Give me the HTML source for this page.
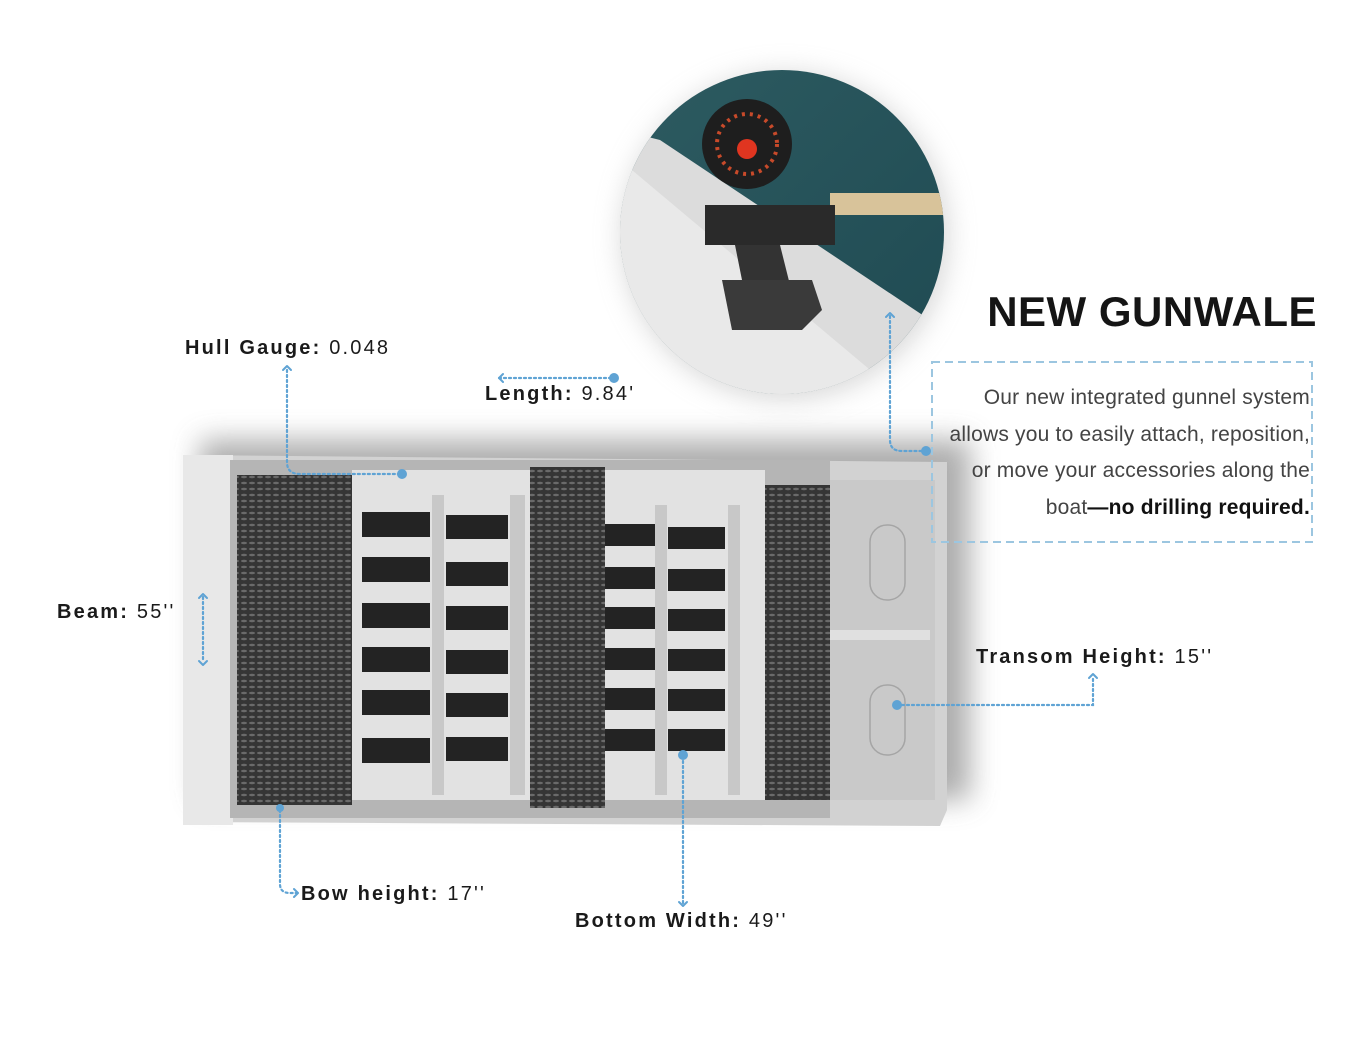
<!DOCTYPE html>
<html><head><meta charset="utf-8"><style>
html,body{margin:0;padding:0;background:#fff;}
body{width:1366px;height:1055px;overflow:hidden;position:relative;font-family:"Liberation Sans",sans-serif;}
.lbl{position:absolute;font-size:20px;color:#1a1a1a;letter-spacing:2.2px;white-space:nowrap;}
.lbl b{font-weight:bold;}
svg{position:absolute;left:0;top:0;}
</style></head><body>
<svg width="1366" height="1055" viewBox="0 0 1366 1055">
<defs>
<filter id="blur" x="-20%" y="-20%" width="140%" height="140%"><feGaussianBlur stdDeviation="14"/></filter>
<pattern id="mesh" width="8" height="6" patternUnits="userSpaceOnUse">
<rect width="8" height="6" fill="#353535"/>
<ellipse cx="4" cy="3" rx="3" ry="1.2" fill="#6a6a6a"/>
</pattern>
<clipPath id="cc"><circle cx="782" cy="232" r="162"/></clipPath>
<linearGradient id="water" x1="0" y1="0" x2="1" y2="1">
<stop offset="0" stop-color="#2d5b61"/><stop offset="1" stop-color="#1f4a52"/>
</linearGradient>
</defs>

<rect x="200" y="440" width="770" height="360" fill="#999" filter="url(#blur)" opacity="0.8"/>
<polygon points="183,455 947,462 947,810 940,826 183,822" fill="#d2d2d2"/>
<rect x="183" y="455" width="50" height="370" fill="#e8e8e8"/>
<rect x="230" y="460" width="600" height="358" fill="#b5b5b5"/>
<rect x="352" y="470" width="180" height="330" fill="#e2e2e2"/>
<rect x="605" y="470" width="160" height="330" fill="#e2e2e2"/>
<g fill="#c8c8c8">
<rect x="432" y="495" width="12" height="300"/><rect x="655" y="505" width="12" height="290"/>
<rect x="510" y="495" width="15" height="300"/><rect x="728" y="505" width="12" height="290"/>
</g>
<g fill="#232323">
<rect x="362" y="512" width="68" height="25"/><rect x="446" y="515" width="62" height="24"/>
<rect x="362" y="557" width="68" height="25"/><rect x="446" y="562" width="62" height="24"/>
<rect x="362" y="603" width="68" height="25"/><rect x="446" y="606" width="62" height="24"/>
<rect x="362" y="647" width="68" height="25"/><rect x="446" y="650" width="62" height="24"/>
<rect x="362" y="690" width="68" height="25"/><rect x="446" y="693" width="62" height="24"/>
<rect x="362" y="738" width="68" height="25"/><rect x="446" y="737" width="62" height="24"/>
<rect x="605" y="524" width="50" height="22"/><rect x="668" y="527" width="57" height="22"/>
<rect x="605" y="567" width="50" height="22"/><rect x="668" y="569" width="57" height="22"/>
<rect x="605" y="607" width="50" height="22"/><rect x="668" y="609" width="57" height="22"/>
<rect x="605" y="648" width="50" height="22"/><rect x="668" y="649" width="57" height="22"/>
<rect x="605" y="688" width="50" height="22"/><rect x="668" y="689" width="57" height="22"/>
<rect x="605" y="729" width="50" height="22"/><rect x="668" y="729" width="57" height="22"/>
</g>
<rect x="830" y="480" width="105" height="320" fill="#c9c9c9"/>
<rect x="830" y="630" width="100" height="10" fill="#e0e0e0"/>
<rect x="870" y="525" width="35" height="75" rx="17" fill="none" stroke="#a5a5a5" stroke-width="1.5"/>
<rect x="870" y="685" width="35" height="70" rx="17" fill="none" stroke="#a5a5a5" stroke-width="1.5"/>
<rect x="237" y="475" width="115" height="330" fill="url(#mesh)"/>
<rect x="530" y="467" width="75" height="341" fill="url(#mesh)"/>
<rect x="765" y="485" width="65" height="315" fill="url(#mesh)"/>

<circle cx="785" cy="236" r="162" fill="#aaa" filter="url(#blur)" opacity="0.5"/>
<g clip-path="url(#cc)">
<rect x="620" y="70" width="325" height="325" fill="url(#water)"/>
<polygon points="620,130 660,140 945,330 945,395 620,395" fill="#dcdcdc"/>
<polygon points="620,160 900,395 620,395" fill="#e9e9e9"/>
<rect x="830" y="193" width="115" height="22" fill="#d8c39a"/>
<path d="M705,205 h130 v40 h-130z" fill="#2a2a2a"/>
<path d="M735,245 h45 l10,40 -15,10 h-30z" fill="#333"/>
<path d="M722,280 h90 l10,30 -20,20 h-70z" fill="#3a3a3a"/>
<circle cx="747" cy="144" r="45" fill="#1e1e1e"/>
<circle cx="747" cy="144" r="30" fill="none" stroke="#c84a2a" stroke-width="4" stroke-dasharray="3 5"/>
<circle cx="747" cy="149" r="10" fill="#e03520"/>
</g>

<g fill="none" stroke="#5fa3d4" stroke-width="2.2" stroke-dasharray="2 3" stroke-linecap="round">
<path d="M287,370 V462 Q287,474 300,474 H402"/>
<path d="M499,378 H614"/>
<path d="M203,597 V662"/>
<path d="M280,810 V884 Q280,893 290,893 H298"/>
<path d="M683,756 V906"/>
<path d="M897,705 H1093 V676"/>
<path d="M890,316 V440 Q890,451 902,451 H925"/>
</g>
<g fill="none" stroke="#5fa3d4" stroke-width="2" stroke-linecap="round" stroke-linejoin="round">
<path d="M283,370 l4,-4 4,4"/>
<path d="M503,374 l-4,4 4,4"/>
<path d="M199,598 l4,-4 4,4"/><path d="M199,661 l4,4 4,-4"/>
<path d="M294,889 l4,4 -4,4"/>
<path d="M679,902 l4,4 4,-4"/>
<path d="M1089,678 l4,-4 4,4"/>
<path d="M886,317 l4,-4 4,4"/>
</g>
<g fill="#5fa3d4">
<circle cx="402" cy="474" r="5"/><circle cx="614" cy="378" r="5"/>
<circle cx="280" cy="808" r="4"/><circle cx="683" cy="755" r="5"/>
<circle cx="897" cy="705" r="5"/><circle cx="926" cy="451" r="5"/>
</g>
<rect x="932" y="362" width="380" height="180" fill="none" stroke="#9cc6e0" stroke-width="2" stroke-dasharray="8 5"/>
</svg>

<div class="lbl" style="left:185px;top:337px"><b>Hull Gauge:</b> 0.048</div>
<div class="lbl" style="left:485px;top:383px"><b>Length:</b> 9.84'</div>
<div class="lbl" style="left:57px;top:601px"><b>Beam:</b> 55''</div>
<div class="lbl" style="left:976px;top:646px"><b>Transom Height:</b> 15''</div>
<div class="lbl" style="left:301px;top:883px"><b>Bow height:</b> 17''</div>
<div class="lbl" style="left:575px;top:910px"><b>Bottom Width:</b> 49''</div>

<div style="position:absolute;left:960px;top:288px;width:357px;text-align:right;font-size:42px;font-weight:bold;color:#151515;letter-spacing:0.5px;">NEW GUNWALE</div>
<div style="position:absolute;left:880px;top:380px;width:430px;text-align:right;font-size:21px;line-height:36.5px;color:#444;letter-spacing:0.2px;white-space:nowrap;">Our new integrated gunnel system<br>allows you to easily attach, reposition,<br>or move your accessories along the<br>boat<b style="color:#111">—no drilling required.</b></div>
</body></html>
